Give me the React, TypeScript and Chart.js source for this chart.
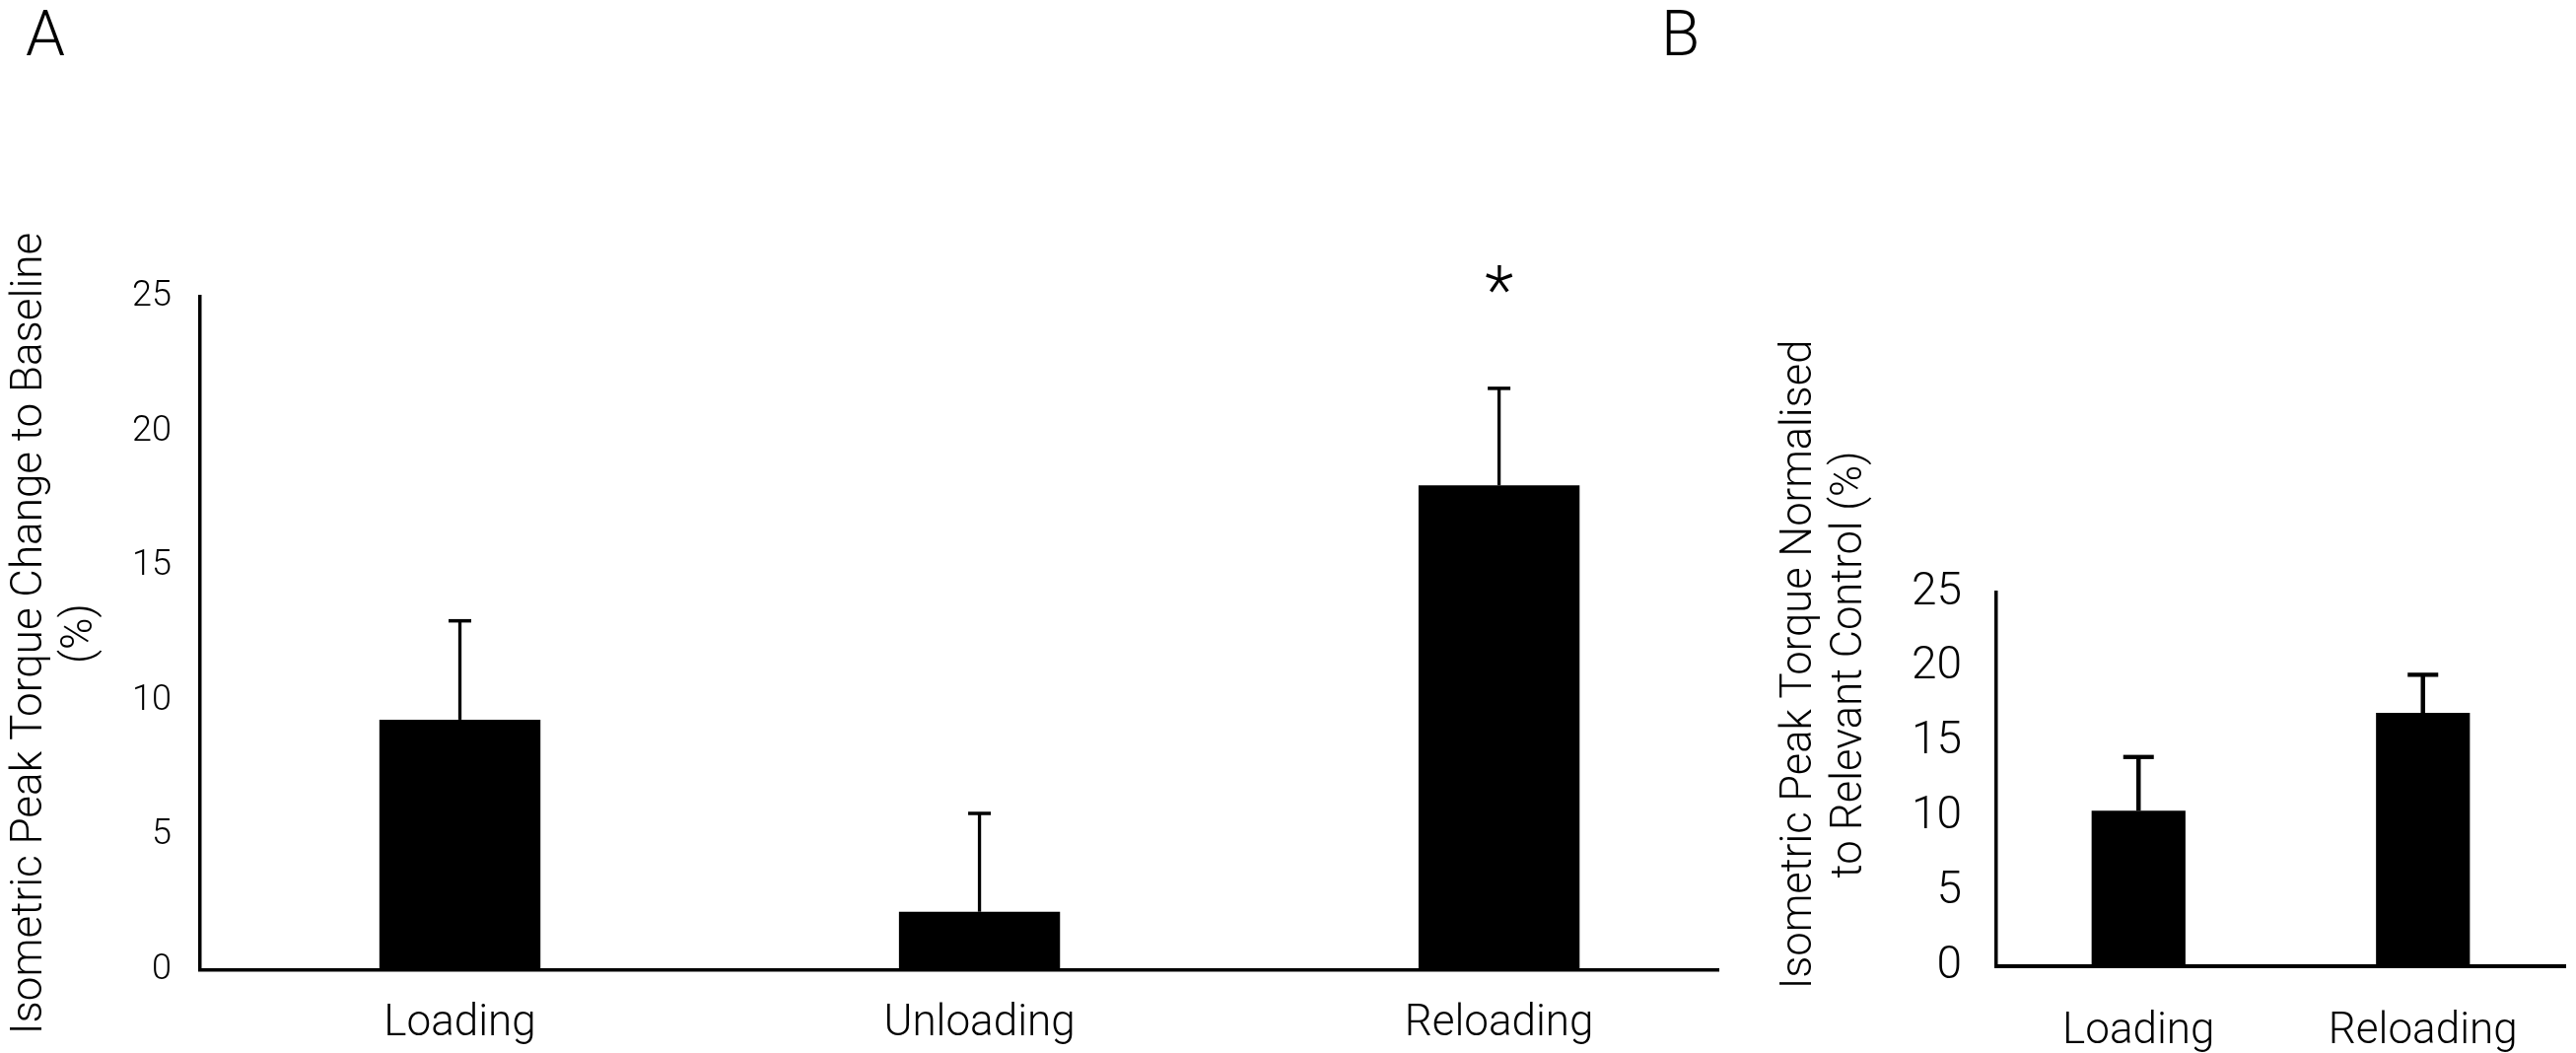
import React, { useEffect, useRef } from "react";
import { Chart, registerables } from "chart.js";

Chart.register(...registerables);

// ---------- data ----------
const categoriesA = ["Loading", "Unloading", "Reloading"];
const meansA = [9.3, 2.17, 18.0];
const errorsA = [3.67, 3.65, 3.6];
const significantA = [false, false, true];

const categoriesB = ["Loading", "Reloading"];
const meansB = [10.4, 16.95];
const errorsB = [3.6, 2.55];

const yTicks = [0, 5, 10, 15, 20, 25];

const titleA = ["Isometric Peak Torque Change to Baseline", "(%)"];
const titleB = ["Isometric Peak Torque Normalised", "to Relevant Control (%)"];
const panelLabels = ["A", "B"];

// ---------- styling ----------
const FAMILY = "Roboto, 'Liberation Sans', Arial, sans-serif";
const WEIGHT = "300";
const W = 2613;
const H = 1068;

const errorBarPlugin = {
  id: "errorBars",
  afterDatasetsDraw(chart: any, _args: any, opts: any) {
    const { ctx } = chart;
    const yScale = chart.scales.y;
    const meta = chart.getDatasetMeta(0);
    const data = chart.data.datasets[0].data;
    ctx.save();
    ctx.strokeStyle = "#000";
    ctx.fillStyle = "#000";
    meta.data.forEach((bar: any, i: number) => {
      const raw = data[i];
      const v = typeof raw === "object" ? raw.y : raw;
      const top = yScale.getPixelForValue(v + opts.errors[i]);
      ctx.lineWidth = opts.lineWidth;
      ctx.beginPath();
      ctx.moveTo(bar.x, bar.y);
      ctx.lineTo(bar.x, top);
      ctx.stroke();
      ctx.lineWidth = opts.capThickness;
      ctx.beginPath();
      ctx.moveTo(bar.x - opts.capWidth / 2, top);
      ctx.lineTo(bar.x + opts.capWidth / 2, top);
      ctx.stroke();
      if (opts.significant && opts.significant[i]) {
        ctx.font = `${WEIGHT} ${opts.starSize}px ${FAMILY}`;
        ctx.textAlign = "center";
        ctx.textBaseline = "alphabetic";
        ctx.fillText("*", bar.x, top - opts.starGap);
      }
    });
    ctx.restore();
  },
};

const textPlugin = {
  id: "panelText",
  afterDraw(chart: any, _args: any, opts: any) {
    const { ctx } = chart;
    (opts.items || []).forEach((t: any) => {
      ctx.save();
      ctx.translate(t.x, t.y);
      if (t.rotate) ctx.rotate(t.rotate);
      ctx.font = `${WEIGHT} ${t.size}px ${FAMILY}`;
      ctx.fillStyle = "#000";
      ctx.textAlign = t.align || "left";
      ctx.textBaseline = "alphabetic";
      ctx.fillText(t.text, 0, 0);
      ctx.restore();
    });
  },
};

function PanelA() {
  const ref = useRef<HTMLCanvasElement | null>(null);
  useEffect(() => {
    if (!ref.current) return;
    const chart = new Chart(ref.current, {
      type: "bar",
      data: {
        datasets: [
          {
            data: meansA.map((y, i) => ({ x: i, y })),
            backgroundColor: "#000",
            borderWidth: 0,
            barPercentage: 0.31,
            categoryPercentage: 1,
          },
        ],
      },
      options: {
        responsive: false,
        animation: false,
        devicePixelRatio: 1,
        layout: { padding: { left: 0, top: 301, right: 47, bottom: 0 } },
        plugins: {
          legend: { display: false },
          tooltip: { enabled: false },
          errorBars: {
            errors: errorsA,
            significant: significantA,
            lineWidth: 3.3,
            capThickness: 3.5,
            capWidth: 23,
            starSize: 68,
            starGap: 76,
          },
          panelText: {
            items: [{ text: panelLabels[0], x: 26, y: 56, size: 64 }],
          },
        } as any,
        scales: {
          x: {
            type: "linear",
            min: -0.5,
            max: 2.422,
            offset: false,
            grid: { display: false, drawTicks: false },
            border: { display: true, color: "#000", width: 3.5 },
            afterBuildTicks: (s: any) => {
              s.ticks = categoriesA.map((_, i) => ({ value: i }));
            },
            afterFit: (s: any) => {
              s.height = H - 984;
            },
            ticks: {
              color: "#000",
              padding: 29,
              maxRotation: 0,
              autoSkip: false,
              font: { family: FAMILY, weight: WEIGHT, size: 44, lineHeight: 1.2 },
              callback: (v: any) => categoriesA[v as number] ?? "",
            },
          },
          y: {
            min: 0,
            max: 25,
            grid: { display: false, drawTicks: false },
            border: { display: true, color: "#000", width: 3.5 },
            afterBuildTicks: (s: any) => {
              s.ticks = yTicks.map((v) => ({ value: v }));
            },
            afterFit: (s: any) => {
              s.width = 203;
            },
            ticks: {
              color: "#000",
              padding: 29,
              font: { family: FAMILY, weight: WEIGHT, size: 36, lineHeight: 1.2 },
            },
            title: {
              display: true,
              text: titleA,
              color: "#000",
              padding: { top: 5, bottom: 0 },
              font: { family: FAMILY, weight: WEIGHT, size: 44, lineHeight: 1.17 },
            },
          },
        },
      } as any,
      plugins: [errorBarPlugin, textPlugin],
    });
    return () => chart.destroy();
  }, []);
  return (
    <canvas
      ref={ref}
      width={1790}
      height={H}
      style={{ position: "absolute", left: 0, top: 0, width: 1790, height: H }}
    />
  );
}

function PanelB() {
  const ref = useRef<HTMLCanvasElement | null>(null);
  useEffect(() => {
    if (!ref.current) return;
    const chart = new Chart(ref.current, {
      type: "bar",
      data: {
        labels: categoriesB,
        datasets: [
          {
            data: meansB,
            backgroundColor: "#000",
            borderWidth: 0,
            barPercentage: 0.33,
            categoryPercentage: 1,
          },
        ],
      },
      options: {
        responsive: false,
        animation: false,
        devicePixelRatio: 1,
        layout: { padding: { left: 0, top: 601, right: 11, bottom: 0 } },
        plugins: {
          legend: { display: false },
          tooltip: { enabled: false },
          errorBars: {
            errors: errorsB,
            lineWidth: 4.5,
            capThickness: 4.3,
            capWidth: 31,
          },
          panelText: {
            items: [
              { text: panelLabels[1], x: 35, y: 56, size: 64 },
              { text: titleB[0], x: 187, y: 674, size: 43.5, rotate: -Math.PI / 2, align: "center" },
              { text: titleB[1], x: 238, y: 674, size: 43.5, rotate: -Math.PI / 2, align: "center" },
            ],
          },
        } as any,
        scales: {
          x: {
            grid: { display: false, drawTicks: false },
            border: { display: true, color: "#000", width: 4 },
            afterFit: (s: any) => {
              s.height = H - 980;
            },
            ticks: {
              color: "#000",
              padding: 41,
              maxRotation: 0,
              font: { family: FAMILY, weight: WEIGHT, size: 44, lineHeight: 1.2 },
            },
          },
          y: {
            min: 0,
            max: 25,
            grid: { display: false, drawTicks: false },
            border: { display: true, color: "#000", width: 3.5 },
            afterBuildTicks: (s: any) => {
              s.ticks = yTicks.map((v) => ({ value: v }));
            },
            afterFit: (s: any) => {
              s.width = 375;
            },
            ticks: {
              color: "#000",
              padding: 35,
              font: { family: FAMILY, weight: WEIGHT, size: 46, lineHeight: 1.2 },
            },
          },
        },
      } as any,
      plugins: [errorBarPlugin, textPlugin],
    });
    return () => chart.destroy();
  }, []);
  return (
    <canvas
      ref={ref}
      width={W - 1650}
      height={H}
      style={{ position: "absolute", left: 1650, top: 0, width: W - 1650, height: H }}
    />
  );
}

export default function App() {
  return (
    <div
      style={{
        position: "absolute",
        left: 0,
        top: 0,
        width: W,
        height: H,
        overflow: "hidden",
        background: "#fff",
      }}
    >
      <PanelA />
      <PanelB />
    </div>
  );
}
